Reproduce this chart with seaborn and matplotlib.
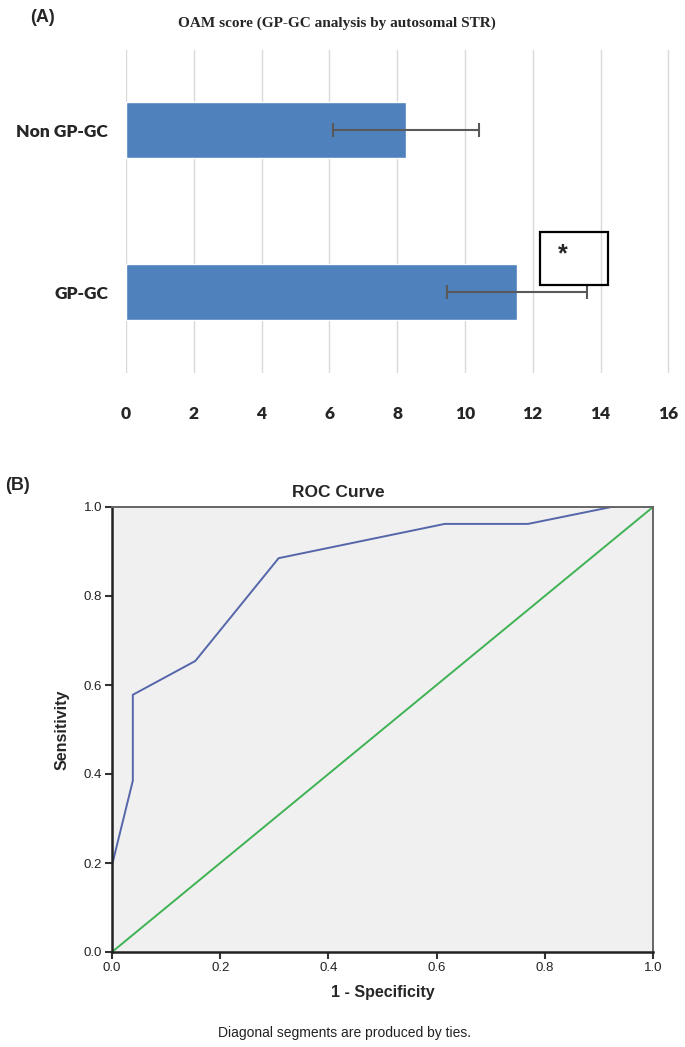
import matplotlib
matplotlib.use("Agg")
import matplotlib.pyplot as plt
from matplotlib.patches import Rectangle
import seaborn as sns
import pandas as pd

# panel A data: mean OAM score with error bar half-width
groups = ["Non GP-GC", "GP-GC"]
oam_mean = [8.26, 11.53]
oam_err = [2.15, 2.07]
x_ticks_a = [0, 2, 4, 6, 8, 10, 12, 14, 16]

# panel B data: ROC curve points
fpr = [0.0, 0.0, 0.0385, 0.0385, 0.154, 0.308, 0.615, 0.769, 0.923, 1.0]
tpr = [0.0, 0.195, 0.385, 0.578, 0.654, 0.885, 0.962, 0.962, 1.0, 1.0]
diag = [0.0, 1.0]
roc_ticks = [0.0, 0.2, 0.4, 0.6, 0.8, 1.0]

sns.set_style("white")
plt.rcParams['font.family'] = ['Liberation Sans', 'DejaVu Sans']

W, H = 685, 1047
fig = plt.figure(figsize=(W / 100, H / 100), dpi=100)

########  (A) bar chart  ########
axA = fig.add_axes([126 / W, 1 - 373 / H, (670 - 126) / W, (373 - 50) / H])
dfa = pd.DataFrame({"group": groups, "score": oam_mean})
sns.barplot(data=dfa, x="score", y="group", orient="h", color="#4f81bd",
            saturation=1, width=0.346, errorbar=None, ax=axA)
axA.errorbar(oam_mean, range(len(groups)), xerr=oam_err, fmt="none",
             ecolor="#595959", elinewidth=1.5, capsize=5, capthick=1.5, zorder=4)
axA.set_xlim(0, 16.05)
axA.set_ylim(1.5, -0.494)
axA.set_xticks(x_ticks_a)
axA.set_xticklabels([str(t) for t in x_ticks_a])
axA.grid(axis="x", color="#d9d9d9", lw=1)
axA.grid(axis="y", visible=False)
axA.set_axisbelow(True)
for s in axA.spines.values():
    s.set_visible(False)
axA.set_xlabel("")
axA.set_ylabel("")
axA.tick_params(axis="x", length=0, pad=24)
axA.tick_params(axis="y", length=0, pad=13)
for lab in axA.get_xticklabels() + axA.get_yticklabels():
    lab.set_fontfamily(["Lato", "DejaVu Sans"])
    lab.set_fontweight("heavy")
    lab.set_fontsize(12.5)

# significance box with asterisk
axA.add_patch(Rectangle((12.21, 0.63), 2.01, 0.327, fill=False, ec="black", lw=1.6, zorder=5))
axA.text(12.88, 0.765, "*", ha="center", va="center", fontsize=18, fontweight="bold", zorder=6)

fig.text(337 / W, 1 - 23 / H, "OAM score (GP-GC analysis by autosomal STR)",
         ha="center", va="center", family="Liberation Serif", fontweight="bold", fontsize=11)
fig.text(30 / W, 1 - 17 / H, "(A)", ha="left", va="center", fontweight="bold", fontsize=13)

########  (B) ROC curve  ########
axB = fig.add_axes([112 / W, 1 - 952 / H, (653 - 112) / W, (952 - 507) / H])
axB.set_facecolor("#f0f0f0")
dfb = pd.DataFrame({"fpr": fpr, "tpr": tpr})
sns.lineplot(data=dfb, x="fpr", y="tpr", sort=False, estimator=None,
             color="#5566aa", lw=1.4, ax=axB)
sns.lineplot(x=diag, y=diag, estimator=None, color="#3fb254", lw=1.4, ax=axB)
axB.set_xlim(0, 1)
axB.set_ylim(0, 1)
axB.set_xticks(roc_ticks)
axB.set_yticks(roc_ticks)
axB.set_xticklabels(["%.1f" % t for t in roc_ticks])
axB.set_yticklabels(["%.1f" % t for t in roc_ticks])
axB.tick_params(axis="both", direction="out", length=5, width=1.5, color="#333333",
                labelsize=9.5, labelcolor="#222222", pad=2, bottom=True, left=True)
for side in ["left", "bottom"]:
    axB.spines[side].set_color("#222222")
    axB.spines[side].set_linewidth(1.8)
for side in ["top", "right"]:
    axB.spines[side].set_color("#666666")
    axB.spines[side].set_linewidth(1.4)
axB.set_xlabel("1 - Specificity", fontweight="bold", fontsize=11.5, labelpad=8)
axB.set_ylabel("Sensitivity", fontweight="bold", fontsize=11.5, labelpad=10)
axB.text(0.418, 1 + 14 / 445, "ROC Curve", transform=axB.transAxes, ha="center",
         va="center", fontsize=12.5, fontweight="bold")

fig.text(344 / W, 1 - 1033 / H, "Diagonal segments are produced by ties.",
         ha="center", va="center", fontsize=10, color="#222222")
fig.text(5 / W, 1 - 486 / H, "(B)", ha="left", va="center", fontweight="bold", fontsize=13)

fig.savefig("out.png", dpi=100)
